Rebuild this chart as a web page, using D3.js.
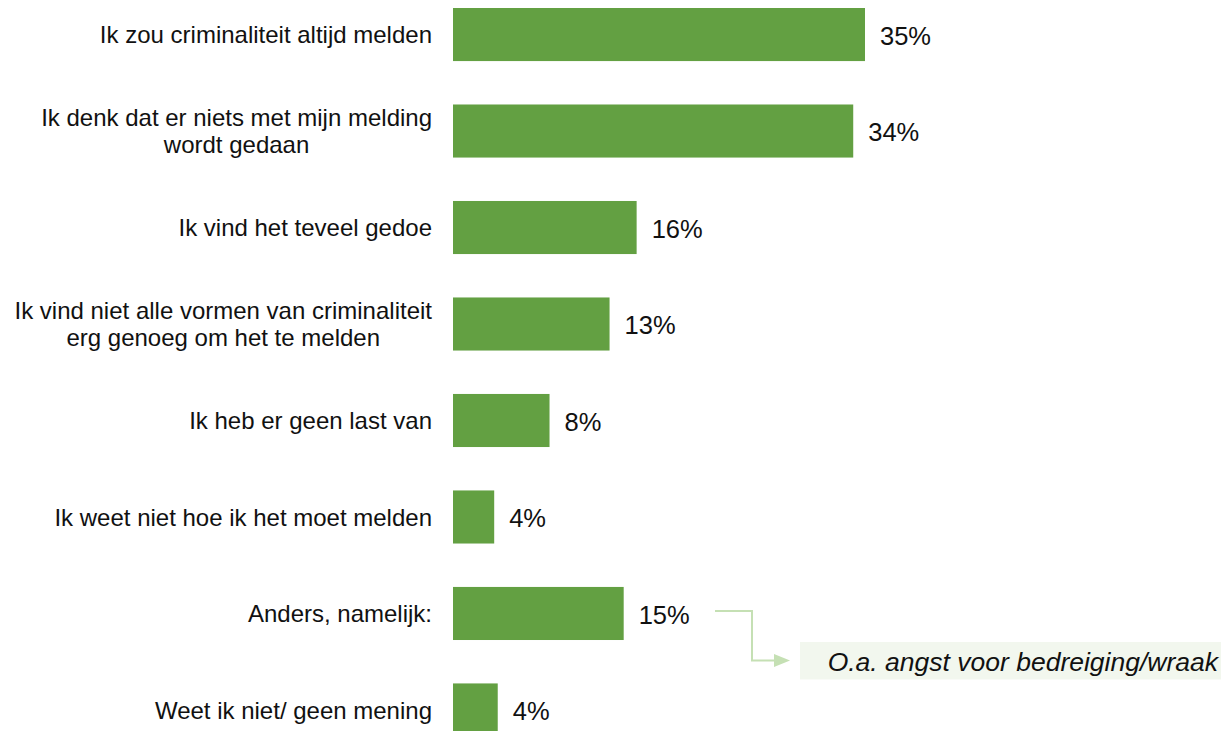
<!DOCTYPE html>
<html>
<head>
<meta charset="utf-8">
<script src="https://cdn.jsdelivr.net/npm/d3@7"></script>
<style>
  body { margin: 0; background: #fff; }
  svg { display: block; font-family: "Liberation Sans", Arial, sans-serif; }
</style>
</head>
<body>
<div id="chart"></div>
<script>
let width = 1221;
let height = 731;

// data
let categories = [
    ['Ik zou criminaliteit altijd melden'],
    ['Ik denk dat er niets met mijn melding', 'wordt gedaan'],
    ['Ik vind het teveel gedoe'],
    ['Ik vind niet alle vormen van criminaliteit', 'erg genoeg om het te melden'],
    ['Ik heb er geen last van'],
    ['Ik weet niet hoe ik het moet melden'],
    ['Anders, namelijk:'],
    ['Weet ik niet/ geen mening']
];
let values = [35, 34, 15.6, 13.3, 8.2, 3.5, 14.5, 3.8];
let valueLabels = ['35%', '34%', '16%', '13%', '8%', '4%', '15%', '4%'];
let noteText = 'O.a. angst voor bedreiging/wraak';
let noteIndex = 6;

let barColor = '#63a042';
let labelRight = 432;

let svg = d3.select('#chart').append('svg')
    .attr('width', width)
    .attr('height', height);

let x = d3.scaleLinear()
    .domain([0, 35])
    .range([453, 865]);

let y = d3.scaleBand()
    .domain(d3.range(categories.length))
    .range([8, 736.5])
    .paddingInner(0.45)
    .paddingOuter(0);

let rows = svg.selectAll('g.row')
    .data(values)
    .join('g')
    .attr('class', 'row');

rows.append('rect')
    .attr('x', x(0))
    .attr('y', (d, i) => y(i))
    .attr('width', d => x(d) - x(0))
    .attr('height', y.bandwidth())
    .attr('fill', barColor);

rows.append('text')
    .attr('x', d => x(d) + 15)
    .attr('y', (d, i) => y(i) + y.bandwidth() / 2 + 1.5)
    .attr('dy', '0.35em')
    .attr('font-size', 25.5)
    .attr('fill', '#111')
    .text((d, i) => valueLabels[i]);

// category labels: block right-aligned, lines centred inside the block
categories.forEach((lines, i) => {
    let cy = y(i) + y.bandwidth() / 2 + 0.5;
    let lineH = 27;
    let t = svg.append('text')
        .attr('font-size', 24)
        .attr('fill', '#111')
        .attr('text-anchor', 'middle');
    let spans = lines.map((l, k) => t.append('tspan')
        .attr('y', cy + (k - (lines.length - 1) / 2) * lineH)
        .attr('dy', '0.35em')
        .text(l));
    let maxW = d3.max(spans, s => s.node().getComputedTextLength());
    spans.forEach(s => s.attr('x', labelRight - maxW / 2));
});

// annotation for "Anders, namelijk"
let ny = y(noteIndex) + y.bandwidth() / 2;
let lineColor = '#c5e0b4';
svg.append('rect')
    .attr('x', 800)
    .attr('y', ny + 28.5)
    .attr('width', 421)
    .attr('height', 37.5)
    .attr('fill', '#f2f7ee');

svg.append('path')
    .attr('d', `M715,${ny - 2.5} H752 V${ny + 47} H776`)
    .attr('fill', 'none')
    .attr('stroke', lineColor)
    .attr('stroke-width', 2);

svg.append('path')
    .attr('d', `M774,${ny + 40.5} L790,${ny + 47} L774,${ny + 53.5} Z`)
    .attr('fill', lineColor);

svg.append('text')
    .attr('x', 1218)
    .attr('y', ny + 48)
    .attr('dy', '0.35em')
    .attr('text-anchor', 'end')
    .attr('font-size', 26.5)
    .attr('font-style', 'italic')
    .attr('fill', '#111')
    .text(noteText);
</script>
</body>
</html>
